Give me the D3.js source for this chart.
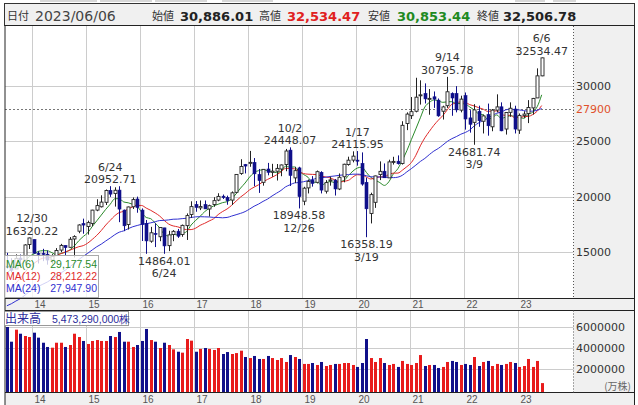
<!DOCTYPE html>
<html><head><meta charset="utf-8">
<script src="https://cdn.jsdelivr.net/npm/d3@7"></script>
<style>body{margin:0;background:#fff}svg{display:block}</style>
</head><body>
<svg id="c" width="638" height="405"></svg>
<script>
// ---- DATA (Nikkei 225 monthly, Jul 2013 - Jun 2023) ----
const months = d3.timeMonths(new Date(2013, 6, 1), new Date(2023, 6, 1));
const open  = [13750,13700,13500,14480,14300,15700, 16150,14900,14900,14830,14300,14700,15200,15620,15450,16200,16900,17590,
  17325,17600,18800,19100,19500,20570,20300,20600,18800,17500,19100,19800, 18800,17600,16000,16700,16400,17200,15600,16600,16900,16600,17400,18400,
  19300,19000,19300,18900,19300,19700,20050,19950,19700,20400,22100,22900, 23070,23100,22000,21300,22500,22200,22300,22500,22900,24200,21700,22600,
  19600,20800,21500,21300,22200,20500,21500,21500,20700,21800,22900,23300, 23300,23000,21300,18500,19500,22000,22300,21700,23100,23200,23000,26600,
  27300,27700,29100,29300,28800,29000,28700,27700,28200,29300,29300,27800, 29100,27100,26700,27700,26800,27400,26300,27800,28100,26100,27600,27900,
  26000,27300,27500,28000,28900,30886.01];
const high  = [14953,14466,14817,14799,15727,16320.22, 16164,15095,15312,15164,14836,15379,15759,15620,16374,16533,17520,18030,
  17850,18826,19778,20133,20655,20952.71,20850,20946,18850,19115,19937,20012, 18951,17905,17291,17613,17251,17200,16938,17000,17100,17500,18500,19592,
  19615,19668,19668,19289,19961,20318,20200,20100,20481,22020,23382,22954, 24129,23486,22502,22500,23050,22966,22949,22900,24306,24448.07,22698,22700,
  20900,21556,21860,22362,22300,21500,21823,21600,22100,22975,23608,24092, 24115.95,23995,21719,20365,21900,23185,23000,23338,23600,23725,26800,27600,
  28979,30714,30485,30208,29700,29480,28850,28200,30795.78,29400,29960,29100, 29388,27800,28338,28200,27400,28389,27900,29222,28500,27600,28500,28200,
  27500,27700,28700,28900,31560,32534.47];
const low   = [13527,13188,13500,13748,14000,15295, 14914,13995,14203,13885,13964,14700,15010,14753,15418,14529,16720,16672,
  16592,17335,18700,19034,19258,19990,19115,17714,16901,17051,18900,18562, 16017,14865,15858,15472,16000,14864.01,15107,16000,16300,16400,16111,18100,
  18650,18800,18900,18224,19100,19600,19800,19280,19254,20300,21972,22100, 22700,20950,20347,21000,21931,21800,21462,21851,22300,20971,21243,18948.58,
  19241,20300,20911,21200,20300,20289,21000,20110,20600,21300,22800,23100, 22800,21000,16358.19,17600,19000,21500,21700,21700,22900,22900,22900,26000,
  27000,27600,28300,28400,27385,28000,27200,26954,28000,27293,27600,27600, 26044,25775,24681.74,26300,25700,25500,25900,27600,25900,25600,27200,25700,
  25661,27100,26632,27400,28900,30853.44];
const close = [13668,13389,14456,14328,15662,16291, 14915,14841,14828,14304,14632,15162,15621,15425,16174,16414,17460,17451,
  17674,18798,19207,19520,20563,20236,20585,18890,17388,19083,19747,19034, 17518,16027,16759,16666,17235,15576,16569,16887,16450,17425,18308,19114,
  19041,19119,18909,19197,19651,20033,19925,19646,20356,22011,22724,22765, 23098,22068,21454,22468,22202,22305,22554,22865,24120,21920,22351,20015,
  20773,21385,21206,22259,20601,21276,21522,20704,21756,22927,23294,23657, 23205,21143,18917,20194,21878,22288,21710,23140,23185,22977,26434,27444,
  27663,28966,29179,28813,28860,28792,27284,28090,29453,28893,27822,28792, 27002,26527,27821,26848,27280,26394,27802,28092,25937,27587,27969,26095,
  27327,27446,28041,28856,30888,32506.78];
// monthly closes Jul 2011 - Jun 2013, used only to start the moving averages
const priorClose = [9833,8955,8700,8988,8435,8455,8802,9723,10084,9521,8543,9007,8695,8840,8870,8928,9446,10395,11139,11559,12398,13861,13775,13677];
// volume, 万株
const volume = [6020000,4600000,5760000,5370000,5150000,5050000, 5470000,4990000,4500000,4090000,4020000,4500000,4500000,4090000,4280000,5370000,5050000,4670000,
  4380000,4670000,4760000,4670000,4670000,5150000,5050000,5540000,4600000,4600000,4090000,4280000, 4670000,5830000,4760000,4600000,3990000,4500000,4280000,3860000,3630000,3540000,4860000,4700000,
  3630000,3900000,3990000,3900000,3800000,3990000,3410000,3600000,3410000,3500000,3730000,3120000, 3020000,3220000,2930000,2930000,3220000,3020000,2830000,3020000,2640000,3310000,3120000,2930000,
  2450000,2450000,2540000,2350000,2640000,2250000,2350000,2450000,2450000,2540000,2540000,2350000, 2160000,2540000,4860000,3020000,2640000,3020000,2540000,2350000,2450000,2160000,2740000,2450000,
  2350000,2540000,3310000,2250000,2350000,2350000,2060000,2160000,2640000,2740000,2640000,2350000, 2450000,2350000,3120000,2250000,2640000,2740000,2250000,2450000,2350000,2450000,2640000,2540000,
  2160000,2250000,2930000,2160000,2740000,600000];
const yearLabels = ["14","15","16","17","18","19","20","21","22","23"];
const priceTicks = [15000, 20000, 25000, 30000];
const volTicks = [2000000, 4000000, 6000000];
const markLine = 27900;
const maPeriods = [6, 12, 24];
const maNames = ["MA(6)", "MA(12)", "MA(24)"];
const maLegendValues = ["29,177.54", "28,212.22", "27,947.90"];
const annotations = [
  {i: 5,   kind: "high", date: "12/30", text: "16320.22"},
  {i: 23,  kind: "high", date: "6/24",  text: "20952.71"},
  {i: 35,  kind: "low",  date: "6/24",  text: "14864.01"},
  {i: 63,  kind: "high", date: "10/2",  text: "24448.07"},
  {i: 65,  kind: "low",  date: "12/26", text: "18948.58"},
  {i: 78,  kind: "high", date: "1/17",  text: "24115.95"},
  {i: 80,  kind: "low",  date: "3/19",  text: "16358.19"},
  {i: 98,  kind: "high", date: "9/14",  text: "30795.78"},
  {i: 104, kind: "low",  date: "3/9",   text: "24681.74"},
  {i: 119, kind: "high", date: "6/6",   text: "32534.47"}
];
const header = {date: "2023/06/06", open: "30,886.01", high: "32,534.47", low: "30,853.44", close: "32,506.78"};
const volumeLabel = "5,473,290,000株";

// ---- LAYOUT ----
const L = 5, R = 573.5, AX = 634.5;
const pTop = 26, pBot = 298.5, vTop = 310.5, vBot = 392.5;
const UP = "#ffffff", DOWN = "#10108a", VUP = "#e81c1c", VDOWN = "#10108a";
const maColors = ["#2a8a2a", "#e02a2a", "#3030d0"];

const svg = d3.select("#c");
const x = d3.scaleBand().domain(d3.range(months.length)).range([4.65, 4.65 + 4.494 * months.length]);
const xc = i => x(i) + x.bandwidth() / 2;
const y = d3.scaleLinear().domain([15000, 30000]).range([252.3, 85.7]);
const yv = d3.scaleLinear().domain([0, 6000000]).range([389.3, 327.2]);

// backgrounds
svg.append("rect").attr("x", 0).attr("y", 0).attr("width", 638).attr("height", 405).attr("fill", "#fff");
[[40,97],[100,152],[155,207],[222,273],[515,545],[553,576]].forEach(d =>
  svg.append("rect").attr("x", d[0]).attr("y", 0).attr("width", d[1]-d[0]).attr("height", 2).attr("fill", "#d8d8d8"));
svg.append("rect").attr("x", 4.5).attr("y", 3.5).attr("width", AX - 4.5).attr("height", 22).attr("fill", "#f0f0f0").attr("stroke", "#333");
svg.append("rect").attr("x", R).attr("y", pTop).attr("width", AX - R).attr("height", vBot - pTop).attr("fill", "#f0f0f0");
svg.append("rect").attr("x", L).attr("y", pBot).attr("width", AX - L).attr("height", vTop - pBot).attr("fill", "#f0f0f0");
svg.append("rect").attr("x", L).attr("y", vBot).attr("width", AX - L).attr("height", 405 - vBot).attr("fill", "#f0f0f0");

const jan = months.map((m, i) => m.getMonth() === 0 ? i : -1).filter(i => i >= 0);
const gx = i => Math.round(x(i) + 0.7) + 0.5;

// grid - price
const gp = svg.append("g").attr("stroke", "#cccccc").attr("stroke-width", 1);
jan.forEach(i => gp.append("line").attr("x1", gx(i)).attr("x2", gx(i)).attr("y1", pTop).attr("y2", pBot));
priceTicks.forEach(t => gp.append("line").attr("x1", L).attr("x2", R).attr("y1", Math.round(y(t)) + 0.5).attr("y2", Math.round(y(t)) + 0.5));
// grid - volume
jan.forEach(i => gp.append("line").attr("x1", gx(i)).attr("x2", gx(i)).attr("y1", vTop).attr("y2", vBot));
volTicks.forEach(t => gp.append("line").attr("x1", L).attr("x2", R).attr("y1", Math.round(yv(t)) + 0.5).attr("y2", Math.round(yv(t)) + 0.5));

// marker line 27900
svg.append("line").attr("x1", L).attr("x2", R).attr("y1", Math.round(y(markLine)) + 0.5).attr("y2", Math.round(y(markLine)) + 0.5)
  .attr("stroke", "#777").attr("stroke-dasharray", "2,2");

// moving averages
const all = priorClose.concat(close);
const off = priorClose.length;
maPeriods.forEach((n, k) => {
  const vals = close.map((c, i) => d3.mean(all.slice(off + i - n + 1, off + i + 1)));
  svg.append("path").datum(vals).attr("fill", "none").attr("stroke", maColors[k]).attr("stroke-width", 1)
    .attr("d", d3.line().x((d, i) => xc(i)).y(d => y(d)).curve(d3.curveMonotoneX));
});

// candles
const cw = 3;
const cg = svg.append("g");
close.forEach((c, i) => {
  const up = c >= open[i];
  const cx = Math.round(xc(i)) + 0.5;
  cg.append("line").attr("x1", cx).attr("x2", cx).attr("y1", y(high[i])).attr("y2", y(low[i])).attr("stroke", up ? "#222" : DOWN);
  const top = y(Math.max(c, open[i])), bot = y(Math.min(c, open[i]));
  cg.append("rect").attr("x", cx - 1.5).attr("y", top).attr("width", cw).attr("height", Math.max(1, bot - top))
    .attr("fill", up ? UP : DOWN).attr("stroke", up ? "#222" : DOWN).attr("stroke-width", up ? 0.9 : 0.6);
});

// volume bars
close.forEach((c, i) => {
  const up = c >= open[i];
  svg.append("rect").attr("x", Math.round(xc(i)) - 1).attr("y", yv(volume[i])).attr("width", 3).attr("height", vBot - yv(volume[i]))
    .attr("fill", up ? VUP : VDOWN);
});

// annotations
const ag = svg.append("g").attr("font-family", "DejaVu Sans").attr("font-size", 11).attr("fill", "#333").attr("text-anchor", "middle");
annotations.forEach(a => {
  const w = 54;
  let cx = xc(a.i);
  cx = Math.max(L + w / 2, Math.min(R - w / 2 - 4, cx));
  if (a.kind === "high") {
    const yy = y(high[a.i]);
    ag.append("text").attr("x", cx).attr("y", yy - 3).text(a.text);
    ag.append("text").attr("x", cx).attr("y", yy - 15.5).text(a.date);
  } else {
    const yy = y(low[a.i]);
    ag.append("text").attr("x", cx).attr("y", yy + 11).text(a.text);
    ag.append("text").attr("x", cx).attr("y", yy + 23.5).text(a.date);
  }
});

// frame lines
const fr = svg.append("g").attr("stroke", "#222").attr("stroke-width", 1);
fr.append("line").attr("x1", L).attr("x2", L).attr("y1", 25).attr("y2", 405);
[25.5, pBot, vTop, vBot].forEach(v => fr.append("line").attr("x1", L).attr("x2", AX).attr("y1", v).attr("y2", v));
fr.append("line").attr("x1", AX).attr("x2", AX).attr("y1", 25).attr("y2", 405);
svg.append("line").attr("x1", R).attr("x2", R).attr("y1", pTop).attr("y2", pBot).attr("stroke", "#555").attr("stroke-dasharray", "1,2");
svg.append("line").attr("x1", R).attr("x2", R).attr("y1", vTop).attr("y2", vBot).attr("stroke", "#555").attr("stroke-dasharray", "1,2");

// right axes
const ax = svg.append("g").attr("font-family", "DejaVu Sans").attr("font-size", 11).attr("fill", "#333");
priceTicks.forEach(t => ax.append("text").attr("x", 576).attr("y", y(t)).attr("dy", "0.36em").text(t));
ax.append("text").attr("x", 576).attr("y", y(markLine)).attr("dy", "0.36em").attr("fill", "#e0502a").text(markLine);
volTicks.forEach(t => ax.append("text").attr("x", 576).attr("y", yv(t)).attr("dy", "0.36em").text(t));
ax.append("text").attr("x", 631).attr("y", 390).attr("text-anchor", "end").attr("font-size", 10).attr("fill", "#666")
  .attr("font-family", "Noto Sans CJK JP").text("(万株)");

// year labels
const yl = svg.append("g").attr("font-family", "Liberation Sans").attr("font-size", 10).attr("fill", "#555");
jan.forEach((i, k) => {
  yl.append("text").attr("x", gx(i) + 2).attr("y", 307.5).text(yearLabels[k]);
  yl.append("text").attr("x", gx(i) + 2).attr("y", 402.5).text(yearLabels[k]);
});

// MA legend
svg.append("rect").attr("x", 4.5).attr("y", 255.5).attr("width", 94).attr("height", 42).attr("fill", "#fff").attr("fill-opacity", 0.78).attr("stroke", "#aaa");
const lg = svg.append("g").attr("font-family", "Liberation Sans").attr("font-size", 10.5);
maNames.forEach((m, k) => {
  lg.append("text").attr("x", 6).attr("y", 268 + k * 12).attr("fill", maColors[k]).text(m);
  lg.append("text").attr("x", 97).attr("y", 268 + k * 12).attr("fill", maColors[k]).attr("text-anchor", "end").text(maLegendValues[k]);
});

// volume label
svg.append("rect").attr("x", 4.5).attr("y", 311.5).attr("width", 124).attr("height", 14).attr("fill", "#fff").attr("stroke", "#999");
svg.append("text").attr("x", 5).attr("y", 323).attr("font-family", "Noto Sans CJK JP").attr("font-size", 12).attr("fill", "#2b2b9b").text("出来高");
svg.append("text").attr("x", 52).attr("y", 323).attr("font-family", "Liberation Sans").attr("font-size", 10.5).attr("fill", "#2b2b9b").text(volumeLabel);

// header
const hd = svg.append("g");
const cjk = (t, xx) => hd.append("text").attr("x", xx).attr("y", 20).attr("font-family", "Noto Sans CJK JP").attr("font-size", 11).attr("fill", "#333").text(t);
const num = (t, xx, col, bold) => hd.append("text").attr("x", xx).attr("y", 20.5).attr("font-family", "DejaVu Sans").attr("font-size", 13)
  .attr("font-weight", bold ? "bold" : "normal").attr("fill", col).text(t);
cjk("日付", 7);
hd.append("text").attr("x", 35).attr("y", 20.5).attr("font-family", "DejaVu Sans").attr("font-size", 14).attr("fill", "#444").text(header.date);
cjk("始値", 152); num(header.open, 180, "#222", true);
cjk("高値", 259); num(header.high, 287, "#e02020", true);
cjk("安値", 368); num(header.low, 397, "#1f8a1f", true);
cjk("終値", 477); num(header.close, 503, "#222", true);
</script>
</body></html>
